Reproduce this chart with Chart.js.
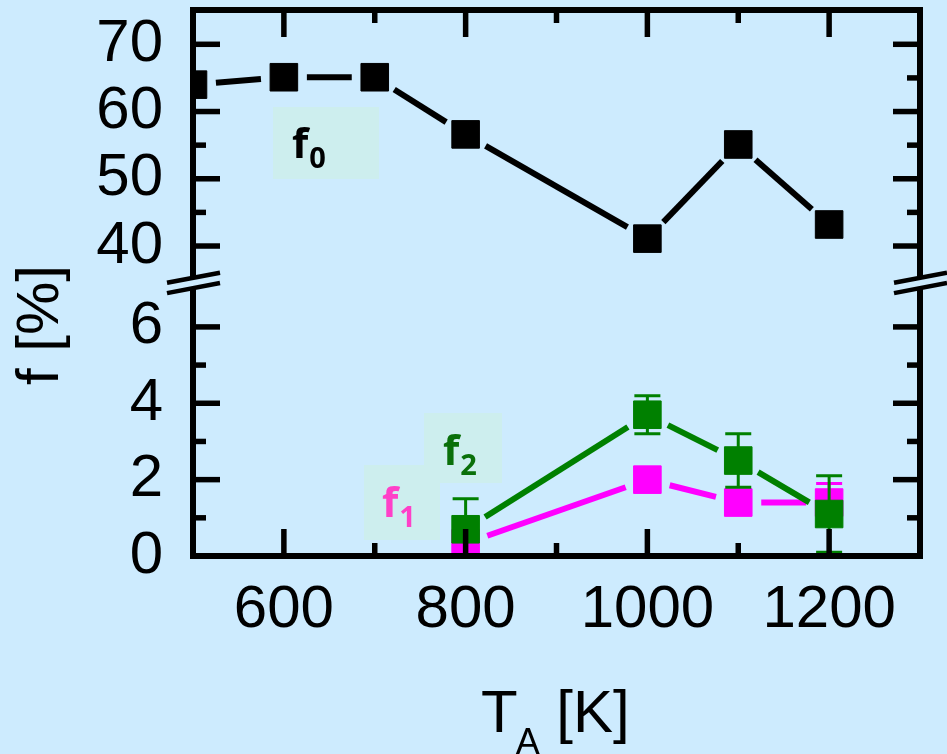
<!DOCTYPE html>
<html>
<head>
<meta charset="utf-8">
<title>f vs T_A</title>
<script src="https://cdn.jsdelivr.net/npm/chart.js@4.4.1/dist/chart.umd.min.js"></script>
<style>
  html, body { margin: 0; padding: 0; background: #cdebfe; }
  #wrap { width: 947px; height: 754px; }
</style>
</head>
<body>
<div id="wrap"><canvas id="chart"></canvas></div>
<script>
// annealing temperatures (K)
const tempsF0 = [500, 600, 700, 800, 1000, 1100, 1200];
const tempsF12 = [800, 1000, 1100, 1200];

// fractions (%)
const f0 = [64.0, 65.1, 65.1, 56.6, 41.1, 55.1, 43.2];
const f1 = [0.33, 2.0, 1.4, 1.4];
const f1Err = [0, 0, 0, 0.5];
const f2 = [0.7, 3.7, 2.5, 1.1];
const f2Err = [0.8, 0.5, 0.7, 1.0];

// ticks
const xMajor = [600, 800, 1000, 1200];
const xMinor = [700, 900, 1100];
const upperMajor = [40, 50, 60, 70];
const upperMinor = [45, 55, 65];
const lowerMajor = [0, 2, 4, 6];
const lowerMinor = [1, 3, 5];

const BG = '#cdebfe';
const TAG_BG = '#cdeeee';
const FONT = '"Liberation Sans", Arial, sans-serif';
const GAP = 23;      // line stops this far from a marker centre
const CAP = 13;      // half width of error bar caps
const MAJOR = 27, MINOR = 13;

const pts = (xs, ys) => xs.map((x, i) => ({ x, y: ys[i] }));

const setTicks = values => axis => { axis.ticks = values.map(v => ({ value: v })); };
const noPad = s => { s.paddingTop = 0; s.paddingBottom = 0; s.paddingLeft = 0; s.paddingRight = 0; };
const plain = v => String(v);

const yScale = (min, max, ticks) => ({
  type: 'linear',
  position: 'left',
  stack: 'f',
  stackWeight: 1,
  min, max,
  afterBuildTicks: setTicks(ticks),
  afterFit: s => { s.width = 193; noPad(s); },
  grid: { display: false, drawTicks: false },
  border: { display: false },
  ticks: { autoSkip: false, padding: 30, color: '#000', callback: plain, font: { family: FONT, size: 60 } }
});

// tags drawn in boxes next to the curves
const tags = [
  { base: 'f', sub: '0', color: '#000000', box: [273, 107, 106, 72], at: [292, 158] },
  { base: 'f', sub: '2', color: '#0a700a', box: [424, 413, 78, 70], at: [443, 465] },
  { base: 'f', sub: '1', color: '#ff40c8', box: [364, 465, 76, 75], at: [382, 517] }
];

const breakFrame = {
  id: 'breakFrame',
  beforeDraw(chart) {
    const { ctx, width, height } = chart;
    ctx.save();
    ctx.fillStyle = BG;
    ctx.fillRect(0, 0, width, height);
    ctx.restore();
  },
  beforeDatasetDraw(chart, args) {
    const ds = chart.data.datasets[args.index];
    const els = args.meta.data;
    const { ctx, chartArea: a } = chart;
    ctx.save();
    ctx.beginPath();
    ctx.rect(a.left, a.top, a.right - a.left, a.bottom - a.top);
    ctx.clip();
    ctx.strokeStyle = ds.borderColor;
    // segments between markers, with a gap at each end
    ctx.lineWidth = 6;
    for (let i = 1; i < els.length; i++) {
      const p = els[i - 1], q = els[i];
      const dx = q.x - p.x, dy = q.y - p.y, len = Math.hypot(dx, dy);
      if (len <= 2 * GAP) continue;
      const ux = dx / len, uy = dy / len;
      ctx.beginPath();
      ctx.moveTo(p.x + ux * GAP, p.y + uy * GAP);
      ctx.lineTo(q.x - ux * GAP, q.y - uy * GAP);
      ctx.stroke();
    }
    // error bars
    if (ds.errors) {
      const ys = chart.scales[ds.yAxisID];
      ctx.lineWidth = 3;
      ds.errors.forEach((e, i) => {
        if (!e) return;
        const v = ds.data[i].y;
        const x = els[i].x;
        const hi = ys.getPixelForValue(v + e);
        const lo = ys.getPixelForValue(v - e);
        ctx.beginPath();
        ctx.moveTo(x, hi); ctx.lineTo(x, lo);
        ctx.moveTo(x - CAP, hi); ctx.lineTo(x + CAP, hi);
        ctx.moveTo(x - CAP, lo); ctx.lineTo(x + CAP, lo);
        ctx.stroke();
      });
    }
    ctx.restore();
  },
  afterDatasetsDraw(chart) {
    const { ctx, chartArea: a, scales } = chart;
    const up = scales.yHigh, lo = scales.yLow, xs = scales.x;
    const yBreak = up.bottom;
    const line = (x1, y1, x2, y2) => { ctx.beginPath(); ctx.moveTo(x1, y1); ctx.lineTo(x2, y2); ctx.stroke(); };

    ctx.save();
    ctx.strokeStyle = '#000';
    ctx.lineWidth = 6;
    ctx.strokeRect(a.left, a.top, a.right - a.left, a.bottom - a.top);

    // inward ticks
    ctx.lineWidth = 5.5;
    xMajor.forEach(v => { const p = xs.getPixelForValue(v); line(p, a.bottom, p, a.bottom - MAJOR); line(p, a.top, p, a.top + MAJOR); });
    xMinor.forEach(v => { const p = xs.getPixelForValue(v); line(p, a.bottom, p, a.bottom - MINOR); line(p, a.top, p, a.top + MINOR); });
    [[up, upperMajor, upperMinor], [lo, lowerMajor, lowerMinor]].forEach(([s, major, minor]) => {
      major.forEach(v => { const p = s.getPixelForValue(v); line(a.left, p, a.left + MAJOR, p); line(a.right, p, a.right - MAJOR, p); });
      minor.forEach(v => { const p = s.getPixelForValue(v); line(a.left, p, a.left + MINOR, p); line(a.right, p, a.right - MINOR, p); });
    });

    // axis break slashes
    const slope = -0.19, half = 5.2, l = 26, r = 27;
    [a.left, a.right].forEach(ax => {
      ctx.fillStyle = BG;
      ctx.beginPath();
      ctx.moveTo(ax - 8, yBreak - half - 8 * slope);
      ctx.lineTo(ax + 8, yBreak - half + 8 * slope);
      ctx.lineTo(ax + 8, yBreak + half + 8 * slope);
      ctx.lineTo(ax - 8, yBreak + half - 8 * slope);
      ctx.closePath();
      ctx.fill();
      ctx.lineWidth = 4.5;
      [-half, half].forEach(o => line(ax - l, yBreak + o - l * slope, ax + r, yBreak + o + r * slope));
    });

    // curve tags
    tags.forEach(t => {
      const [bx, by, bw, bh] = t.box;
      ctx.fillStyle = TAG_BG;
      ctx.fillRect(bx, by, bw, bh);
      ctx.fillStyle = t.color;
      ctx.textBaseline = 'alphabetic';
      ctx.textAlign = 'left';
      ctx.font = 'bold 42px "Open Sans", sans-serif';
      ctx.fillText(t.base, t.at[0], t.at[1]);
      const w = ctx.measureText(t.base).width;
      ctx.font = 'bold 29px "Open Sans", sans-serif';
      ctx.fillText(t.sub, t.at[0] + w + 1, t.at[1] + 10);
    });
    ctx.restore();
  },
  afterDraw(chart) {
    const { ctx } = chart;
    ctx.save();
    ctx.fillStyle = '#000';
    ctx.textBaseline = 'alphabetic';
    // y title
    ctx.font = '60px ' + FONT;
    ctx.translate(58, 325);
    ctx.rotate(-Math.PI / 2);
    ctx.textAlign = 'center';
    ctx.fillText('f [%]', 0, 0);
    ctx.setTransform(1, 0, 0, 1, 0, 0);
    // x title with subscript
    ctx.textAlign = 'left';
    let x = 481;
    ctx.fillText('T', x, 732);
    x += ctx.measureText('T').width - 2;
    ctx.font = '36px ' + FONT;
    ctx.fillText('A', x, 754);
    x += ctx.measureText('A').width;
    ctx.font = '60px ' + FONT;
    ctx.fillText(' [K]', x, 732);
    ctx.restore();
  }
};

new Chart(document.getElementById('chart'), {
  type: 'line',
  data: {
    datasets: [
      {
        label: 'f0', data: pts(tempsF0, f0), yAxisID: 'yHigh',
        borderColor: '#000000', backgroundColor: '#000000', order: 3
      },
      {
        label: 'f1', data: pts(tempsF12, f1), errors: f1Err, yAxisID: 'yLow',
        borderColor: '#ff00ff', backgroundColor: '#ff00ff', order: 2
      },
      {
        label: 'f2', data: pts(tempsF12, f2), errors: f2Err, yAxisID: 'yLow',
        borderColor: '#008000', backgroundColor: '#008000', order: 1
      }
    ].map(d => Object.assign(d, {
      showLine: false, pointStyle: 'rect', pointRadius: 19.5, pointBorderWidth: 1, clip: 0
    }))
  },
  options: {
    responsive: true,
    maintainAspectRatio: false,
    animation: false,
    events: [],
    layout: { autoPadding: false, padding: { left: 0, top: 10, right: 27, bottom: 0 } },
    plugins: { legend: { display: false }, tooltip: { enabled: false } },
    scales: {
      x: {
        type: 'linear', position: 'bottom', min: 500, max: 1300,
        afterBuildTicks: setTicks(xMajor),
        afterFit: s => { s.height = 198; noPad(s); },
        grid: { display: false, drawTicks: false },
        border: { display: false },
        ticks: { autoSkip: false, maxRotation: 0, padding: 18, color: '#000', callback: plain, font: { family: FONT, size: 60 } }
      },
      yLow: yScale(0, 7.15, lowerMajor),
      yHigh: yScale(34.5, 75.1, upperMajor)
    }
  },
  plugins: [breakFrame]
});
</script>
</body>
</html>
